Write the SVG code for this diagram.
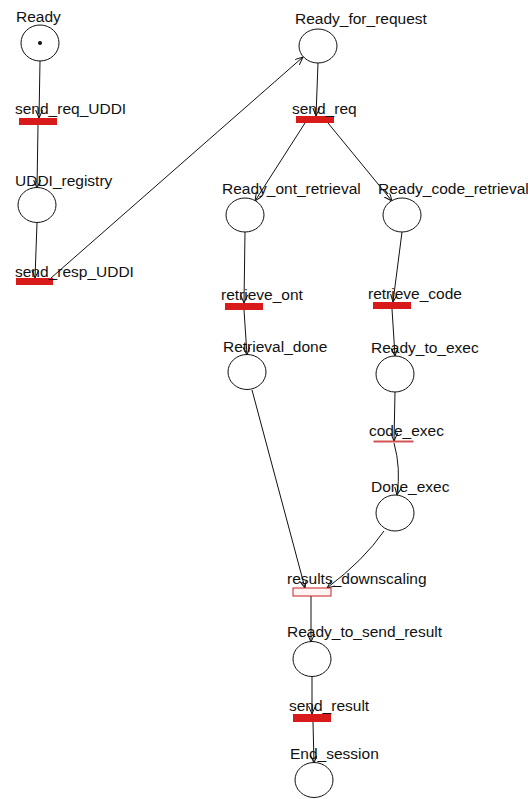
<svg xmlns="http://www.w3.org/2000/svg" width="528" height="799" viewBox="0 0 528 799">
<style>
.pl{fill:#fff;stroke:#111;stroke-width:1}
.tr{fill:#d81a1a}
.lb{font-family:"Liberation Sans",Arial,sans-serif;font-size:15.5px;fill:#111}
.e{fill:none;stroke:#111;stroke-width:1;marker-end:url(#ah)}
</style>
<defs>
<marker id="ah" markerUnits="userSpaceOnUse" markerWidth="9" markerHeight="8" refX="8" refY="3.5" orient="auto">
<path d="M0,0 L8,3.5 L0,7" fill="none" stroke="#111" stroke-width="1"/>
</marker>
</defs>
<rect width="528" height="799" fill="#fff"/>
<g id="connectors">
<path class="e" d="M40,61 L39,118"/>
<path class="e" d="M38,125 L37,188"/>
<path class="e" d="M37,223 L35,278"/>
<path class="e" d="M51,278 L303,57"/>
<path class="e" d="M318,63 L316,116"/>
<path class="e" d="M305,123 L255,201"/>
<path class="e" d="M328,123 L392,201"/>
<path class="e" d="M245,232 L244,303"/>
<path class="e" d="M402,232 L393,302"/>
<path class="e" d="M244,310 L247,355"/>
<path class="e" d="M392,309 L395,356"/>
<path class="e" d="M395,392 L394,441"/>
<path class="e" d="M394,443 Q401,468 397,495"/>
<path class="e" d="M252,390 L305,588"/>
<path class="e" d="M384,531 Q364,560 327,588"/>
<path class="e" d="M311,596 L311,642"/>
<path class="e" d="M312,677 L312,714"/>
<path class="e" d="M313,722 L314,763"/>
</g>
<g id="Ready"><ellipse class="pl" cx="40" cy="43" rx="19" ry="18"/><circle cx="40" cy="43" r="2" fill="#111"/><text class="lb" x="16" y="22">Ready</text></g>
<g id="send_req_UDDI"><rect class="tr" x="19" y="118" width="38" height="7"/><text class="lb" x="15" y="114">send_req_UDDI</text></g>
<g id="UDDI_registry"><ellipse class="pl" cx="37" cy="205" rx="19" ry="17.5"/><text class="lb" x="15" y="186">UDDI_registry</text></g>
<g id="send_resp_UDDI"><rect class="tr" x="16" y="278" width="37" height="7"/><text class="lb" x="15" y="277">send_resp_UDDI</text></g>
<g id="Ready_for_request"><ellipse class="pl" cx="318" cy="46" rx="19" ry="17"/><text class="lb" x="295" y="24">Ready_for_request</text></g>
<g id="send_req"><rect class="tr" x="296" y="116" width="38" height="7"/><text class="lb" x="292" y="114">send_req</text></g>
<g id="Ready_ont_retrieval"><ellipse class="pl" cx="245" cy="215" rx="19" ry="17"/><text class="lb" x="222" y="194">Ready_ont_retrieval</text></g>
<g id="Ready_code_retrieval"><ellipse class="pl" cx="402" cy="215" rx="19" ry="17"/><text class="lb" x="378" y="194">Ready_code_retrieval</text></g>
<g id="retrieve_ont"><rect class="tr" x="225" y="303" width="38" height="7"/><text class="lb" x="221" y="300">retrieve_ont</text></g>
<g id="retrieve_code"><rect class="tr" x="373" y="302" width="38" height="7"/><text class="lb" x="368" y="299">retrieve_code</text></g>
<g id="Retrieval_done"><ellipse class="pl" cx="247" cy="372" rx="19" ry="17.5"/><text class="lb" x="223" y="352">Retrieval_done</text></g>
<g id="Ready_to_exec"><ellipse class="pl" cx="395" cy="374" rx="19" ry="18"/><text class="lb" x="371" y="353">Ready_to_exec</text></g>
<g id="code_exec"><rect x="374" y="441" width="39" height="1" fill="#fbe0e0" stroke="#c83030" stroke-width="0.8"/><text class="lb" x="369" y="436">code_exec</text></g>
<g id="Done_exec"><ellipse class="pl" cx="395" cy="513" rx="19" ry="18"/><text class="lb" x="371" y="492">Done_exec</text></g>
<g id="results_downscaling"><rect x="293" y="588" width="38" height="8" fill="#fff4f4" stroke="#c82020" stroke-width="1"/><text class="lb" x="287" y="584">results_downscaling</text></g>
<g id="Ready_to_send_result"><ellipse class="pl" cx="312" cy="659" rx="19" ry="17.5"/><text class="lb" x="287" y="637">Ready_to_send_result</text></g>
<g id="send_result"><rect class="tr" x="293" y="714" width="38" height="8"/><text class="lb" x="289" y="711">send_result</text></g>
<g id="End_session"><ellipse class="pl" cx="314" cy="780" rx="19" ry="17.5"/><text class="lb" x="290" y="759">End_session</text></g>
</svg>
